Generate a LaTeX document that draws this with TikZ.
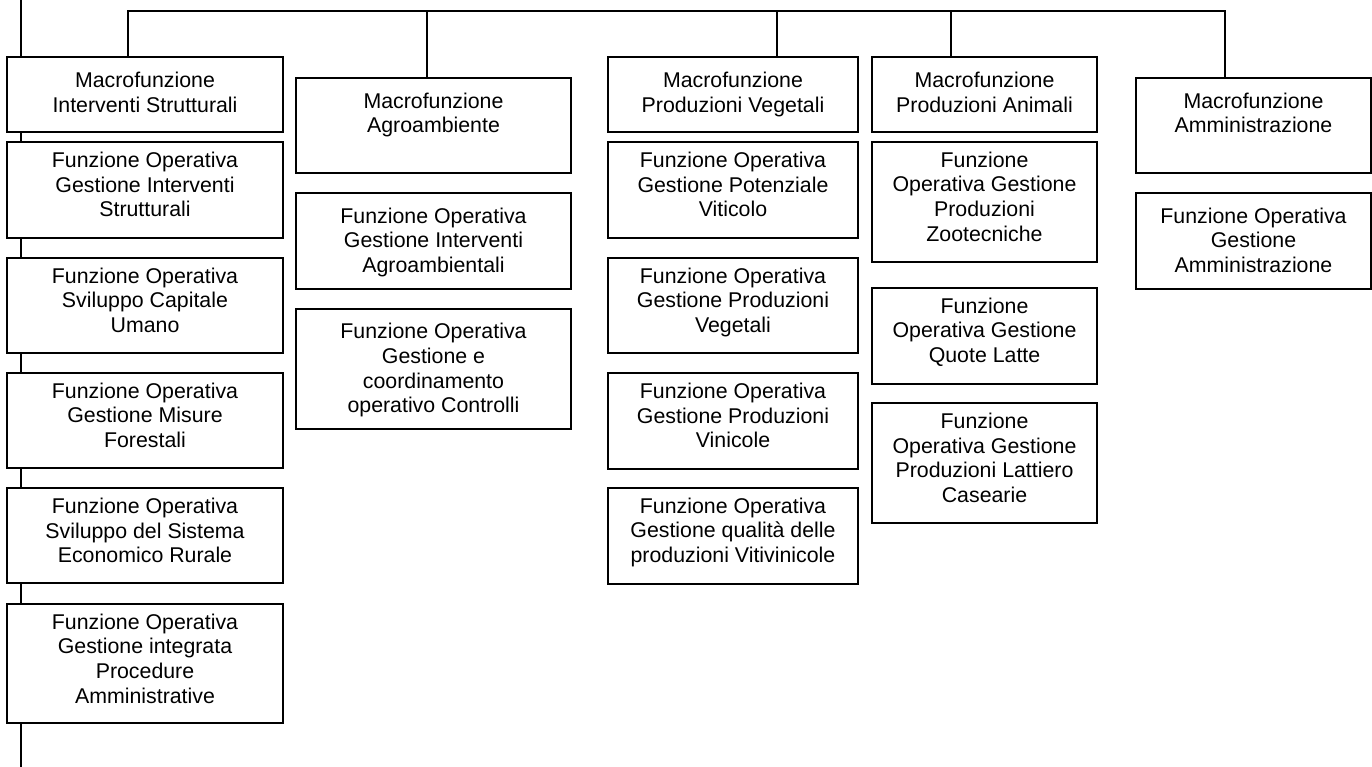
\documentclass[tikz,border=0pt]{standalone}
\usepackage{fontspec}
\setmainfont{Liberation Sans}
\begin{document}
\begin{tikzpicture}[x=0.75pt, y=-0.75pt,
  obox/.style={draw=black, line width=1.5pt, fill=white, inner sep=0pt, outer sep=0pt},
  otext/.style={inner sep=0pt, outer sep=0pt, align=center,
    font={\fontsize{16pt}{18.4pt}\selectfont}},
  wire/.style={draw=black, line width=1.5pt}]

% page frame
\useasboundingbox (0,0) rectangle (1372,767);

% one box: name, left, top, right, bottom, text (text set 11.25pt below the top)
\newcommand\orgbox[6]{%
  \node[obox, minimum width={(#4-#2)*0.75pt}, minimum height={(#5-#3)*0.75pt}]
    (#1) at ({(#2+#4)/2},{(#3+#5)/2}) {};
  \node[otext, anchor=north] (#1t) at ([yshift=-11.25pt]#1.north) {#6};
}
% same, with the text set closer to the top edge
\newcommand\orgboxhi[6]{%
  \node[obox, minimum width={(#4-#2)*0.75pt}, minimum height={(#5-#3)*0.75pt}]
    (#1) at ({(#2+#4)/2},{(#3+#5)/2}) {};
  \node[otext, anchor=north] (#1t) at ([yshift=-7.5pt]#1.north) {#6};
}

% spine on the left and the top bus
\coordinate (spinetop) at (21,0);
\coordinate (spinebot) at (21,767);
\draw[wire] (spinetop) -- (spinebot);

\coordinate (bus1) at (128,10.7);
\coordinate (bus2) at (427,10.7);
\coordinate (bus3) at (777,10.7);
\coordinate (bus4) at (951,10.7);
\coordinate (bus5) at (1225,10.7);

% column 1
\orgbox{a1}{7}{57.3}{283}{131.8}{Macrofunzione\\Interventi Strutturali}
\orgboxhi{a2}{7}{142.3}{283}{237.7}{Funzione Operativa\\Gestione Interventi\\Strutturali}
\orgboxhi{a3}{7}{258}{283}{353}{Funzione Operativa\\Sviluppo Capitale\\Umano}
\orgboxhi{a4}{7}{372.7}{283}{468.3}{Funzione Operativa\\Gestione Misure\\Forestali}
\orgboxhi{a5}{7}{488.3}{283}{583.3}{Funzione Operativa\\Sviluppo del Sistema\\Economico Rurale}
\orgboxhi{a6}{7}{604}{283}{723.3}{Funzione Operativa\\Gestione integrata\\Procedure\\Amministrative}

% column 2
\orgbox{b1}{296}{77.7}{571}{173}{Macrofunzione\\Agroambiente}
\orgbox{b2}{296}{192.7}{571}{289}{Funzione Operativa\\Gestione Interventi\\Agroambientali}
\orgbox{b3}{296}{308.5}{571}{428.7}{Funzione Operativa\\Gestione e\\coordinamento\\operativo Controlli}

% column 3
\orgbox{c1}{608}{57.3}{858}{132.3}{Macrofunzione\\Produzioni Vegetali}
\orgboxhi{c2}{608}{142.3}{858}{237.5}{Funzione Operativa\\Gestione Potenziale\\Viticolo}
\orgboxhi{c3}{608}{257.7}{858}{353.3}{Funzione Operativa\\Gestione Produzioni\\Vegetali}
\orgboxhi{c4}{608}{373.3}{858}{469}{Funzione Operativa\\Gestione Produzioni\\Vinicole}
\orgboxhi{c5}{608}{487.7}{858}{584}{Funzione Operativa\\Gestione qualità delle\\produzioni Vitivinicole}

% column 4
\orgbox{d1}{872}{57.3}{1097}{132.5}{Macrofunzione\\Produzioni Animali}
\orgboxhi{d2}{872}{142}{1097}{262}{Funzione\\Operativa Gestione\\Produzioni\\Zootecniche}
\orgboxhi{d3}{872}{288}{1097}{384}{Funzione\\Operativa Gestione\\Quote Latte}
\orgboxhi{d4}{872}{403.3}{1097}{523.3}{Funzione\\Operativa Gestione\\Produzioni Lattiero\\Casearie}

% column 5
\orgbox{e1}{1136}{77.7}{1371}{173.3}{Macrofunzione\\Amministrazione}
\orgbox{e2}{1136}{193}{1371}{289}{Funzione Operativa\\Gestione\\Amministrazione}

% bus and drops to the macro-function boxes
\draw[wire] (bus1 |- a1.north) -- (bus1) -- (bus5) -- (bus5 |- e1.north);
\draw[wire] (bus2) -- (bus2 |- b1.north);
\draw[wire] (bus3) -- (bus3 |- c1.north);
\draw[wire] (bus4) -- (bus4 |- d1.north);
\end{tikzpicture}
\end{document}
